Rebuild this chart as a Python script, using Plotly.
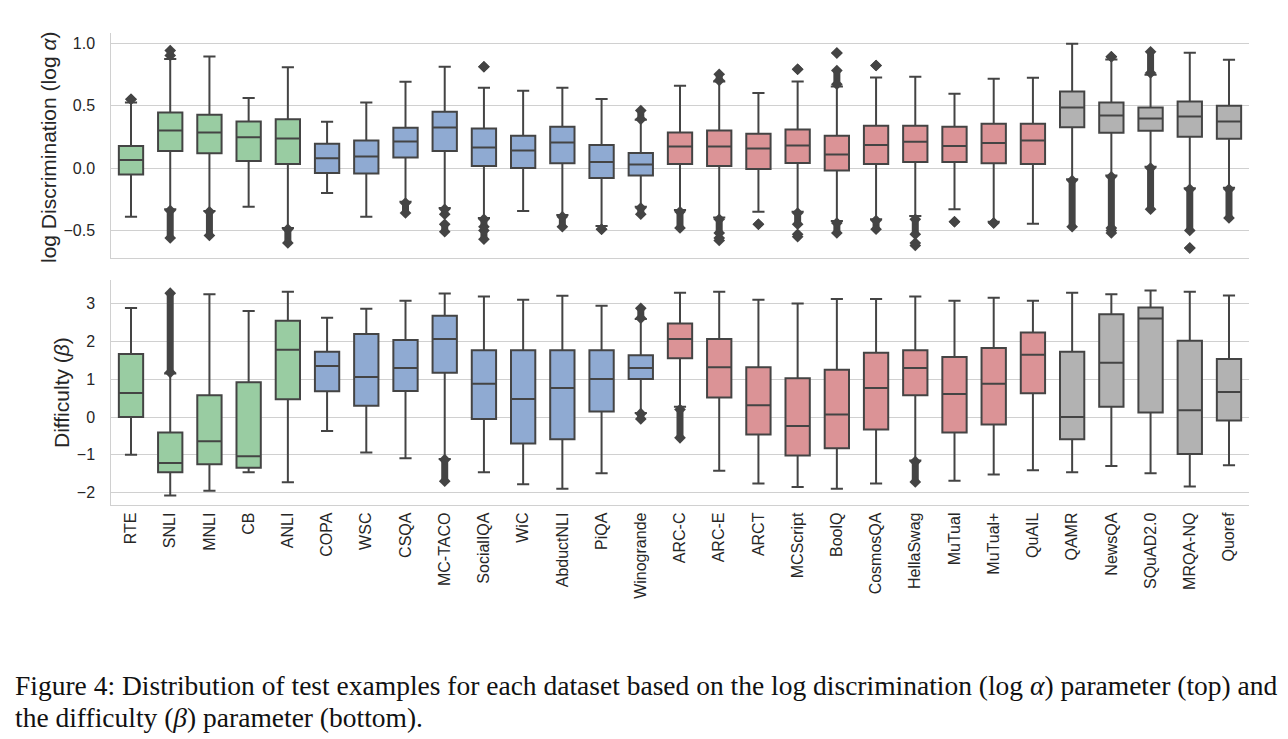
import plotly.graph_objects as go

# ---------------- data ----------------
datasets = ["RTE", "SNLI", "MNLI", "CB", "ANLI",
            "COPA", "WSC", "CSQA", "MC-TACO", "SocialIQA", "WiC", "AbductNLI", "PiQA", "Winogrande",
            "ARC-C", "ARC-E", "ARCT", "MCScript", "BoolQ", "CosmosQA", "HellaSwag", "MuTual", "MuTual+", "QuAIL",
            "QAMR", "NewsQA", "SQuAD2.0", "MRQA-NQ", "Quoref"]
groups = ["nli"] * 5 + ["mc1"] * 9 + ["mc2"] * 10 + ["qa"] * 5
group_colors = {"nli": "#99CCA2", "mc1": "#8FAAD2", "mc2": "#DB9396", "qa": "#B2B2B2"}

# log discrimination (top panel)
a_low = [-0.39, -0.33, -0.345, -0.31, -0.48, -0.20, -0.39, -0.27, -0.32, -0.40, -0.345, -0.377, -0.465, -0.31,
         -0.337, -0.396, -0.35, -0.35, -0.425, -0.41, -0.385, -0.33, -0.43, -0.447,
         -0.09, -0.06, 0.01, -0.163, -0.158]
a_q1 = [-0.053, 0.136, 0.118, 0.056, 0.032, -0.04, -0.045, 0.083, 0.136, 0.016, 0.0, 0.037, -0.08, -0.061,
        0.032, 0.016, -0.008, 0.04, -0.02, 0.032, 0.048, 0.048, 0.037, 0.032,
        0.326, 0.281, 0.297, 0.249, 0.233]
a_med = [0.064, 0.30, 0.283, 0.246, 0.235, 0.078, 0.091, 0.211, 0.324, 0.163, 0.139, 0.203, 0.048, 0.027,
         0.171, 0.171, 0.155, 0.179, 0.107, 0.184, 0.209, 0.176, 0.20, 0.219,
         0.484, 0.42, 0.396, 0.412, 0.372]
a_q3 = [0.176, 0.444, 0.425, 0.372, 0.39, 0.193, 0.219, 0.321, 0.449, 0.316, 0.257, 0.329, 0.184, 0.12,
        0.283, 0.299, 0.273, 0.307, 0.257, 0.337, 0.337, 0.329, 0.353, 0.353,
        0.612, 0.524, 0.484, 0.532, 0.497]
a_high = [0.524, 0.872, 0.893, 0.56, 0.805, 0.369, 0.524, 0.69, 0.81, 0.642, 0.618, 0.642, 0.551, 0.385,
          0.658, 0.692, 0.60, 0.692, 0.652, 0.725, 0.73, 0.594, 0.714, 0.722,
          0.995, 0.869, 0.746, 0.922, 0.866]
# outlier spans (low, high) per dataset; a span with low == high is a single outlier
a_outliers = [
    [(0.55, 0.55)],
    [(0.90, 0.94), (-0.56, -0.34)],
    [(-0.54, -0.35)],
    [],
    [(-0.60, -0.49)],
    [],
    [],
    [(-0.36, -0.28)],
    [(-0.37, -0.33), (-0.51, -0.45)],
    [(0.81, 0.81), (-0.47, -0.41), (-0.57, -0.50)],
    [],
    [(-0.47, -0.39)],
    [(-0.49, -0.49)],
    [(0.39, 0.46), (-0.37, -0.32)],
    [(-0.48, -0.35)],
    [(0.70, 0.75), (-0.52, -0.41), (-0.58, -0.56)],
    [(-0.45, -0.45)],
    [(0.79, 0.79), (-0.45, -0.36), (-0.55, -0.53)],
    [(0.67, 0.78), (0.92, 0.92), (-0.52, -0.44)],
    [(0.82, 0.82), (-0.49, -0.42)],
    [(-0.53, -0.41), (-0.62, -0.60)],
    [(-0.43, -0.43)],
    [(-0.44, -0.44)],
    [],
    [(-0.47, -0.10)],
    [(0.89, 0.89), (-0.48, -0.07), (-0.52, -0.50)],
    [(0.76, 0.93), (-0.33, 0.00)],
    [(-0.50, -0.17), (-0.64, -0.64)],
    [(-0.40, -0.17)],
]

# difficulty (bottom panel)
b_low = [-1.0, -2.08, -1.95, -1.46, -1.73, -0.37, -0.94, -1.09, -1.11, -1.46, -1.78, -1.90, -1.49, 0.11,
         0.27, -1.42, -1.76, -1.85, -1.90, -1.76, -1.15, -1.69, -1.52, -1.41,
         -1.46, -1.30, -1.49, -1.84, -1.28]
b_q1 = [0.0, -1.46, -1.25, -1.34, 0.47, 0.68, 0.30, 0.69, 1.17, -0.05, -0.70, -0.59, 0.15, 1.01,
        1.56, 0.52, -0.46, -1.02, -0.83, -0.33, 0.58, -0.41, -0.20, 0.63,
        -0.59, 0.27, 0.12, -0.98, -0.09]
b_med = [0.64, -1.22, -0.64, -1.04, 1.78, 1.35, 1.06, 1.30, 2.07, 0.88, 0.48, 0.77, 1.01, 1.30,
         2.07, 1.32, 0.31, -0.24, 0.07, 0.77, 1.30, 0.61, 0.88, 1.65,
         0.0, 1.44, 2.61, 0.18, 0.66]
b_q3 = [1.67, -0.41, 0.58, 0.92, 2.55, 1.73, 2.20, 2.04, 2.68, 1.77, 1.77, 1.77, 1.77, 1.64,
        2.48, 2.07, 1.32, 1.03, 1.25, 1.70, 1.77, 1.59, 1.83, 2.24,
        1.73, 2.72, 2.90, 2.02, 1.54]
b_high = [2.89, 1.15, 3.25, 2.81, 3.32, 2.63, 2.87, 3.08, 3.27, 3.19, 3.11, 3.21, 2.95, 2.60,
          3.29, 3.32, 3.11, 3.01, 3.13, 3.13, 3.19, 3.08, 3.16, 3.08,
          3.29, 3.25, 3.35, 3.32, 3.22]
b_outliers = [[] for _ in datasets]
b_outliers[1] = [(1.18, 3.28)]
b_outliers[8] = [(-1.70, -1.13)]
b_outliers[13] = [(2.62, 2.88), (-0.05, 0.09)]
b_outliers[14] = [(-0.55, 0.20)]
b_outliers[20] = [(-1.72, -1.18)]

y_titles = ["log Discrimination (log <i>α</i>)", "Difficulty (<i>β</i>)"]
caption_lines = [
    "Figure 4: Distribution of test examples for each dataset based on the log discrimination (log <i>α</i>) parameter (top) and",
    "the difficulty (<i>β</i>) parameter (bottom).",
]

# ---------------- figure ----------------
OFF = 8                 # page body margin in the browser
W, H = 1288 - OFF, 739 - OFF
EDGE = "#444444"
TEXT = "#262626"
GRID = "#D0D0D0"


def px(x):
    return (x - OFF) / W


def py(y):
    return 1 - (y - OFF) / H


fig = go.Figure()

panels = [
    ("x", "y", a_low, a_q1, a_med, a_q3, a_high, a_outliers),
    ("x2", "y2", b_low, b_q1, b_med, b_q3, b_high, b_outliers),
]

for xa, ya, lo, q1, med, q3, hi, outl in panels:
    for g, col in group_colors.items():
        idx = [i for i, gg in enumerate(groups) if gg == g]
        fig.add_trace(go.Box(
            x=[datasets[i] for i in idx],
            q1=[q1[i] for i in idx], median=[med[i] for i in idx], q3=[q3[i] for i in idx],
            lowerfence=[lo[i] for i in idx], upperfence=[hi[i] for i in idx],
            fillcolor=col, line=dict(color=EDGE, width=2), width=0.62, whiskerwidth=0.5,
            boxpoints=False, xaxis=xa, yaxis=ya, showlegend=False, hoverinfo="skip",
        ))
    ox, oy = [], []
    for i, spans in enumerate(outl):
        for (l, h) in spans:
            ox += [datasets[i], datasets[i], None]
            oy += [l, h, None]
    fig.add_trace(go.Scatter(
        x=ox, y=oy, mode="lines+markers", connectgaps=False,
        line=dict(color=EDGE, width=7),
        marker=dict(symbol="diamond", size=9, color=EDGE, line=dict(width=0)),
        xaxis=xa, yaxis=ya, showlegend=False, hoverinfo="skip",
    ))

xdom = [px(111.4), px(1248.6)]
top_dom = [py(258), py(33)]
bot_dom = [py(505), py(280)]

common_x = dict(type="category", categoryorder="array", categoryarray=datasets,
                range=[-0.5, len(datasets) - 0.5], domain=xdom, showgrid=False,
                showline=True, linecolor=GRID, linewidth=1.3, ticks="", zeroline=False)
common_y = dict(showgrid=True, gridcolor=GRID, gridwidth=1.2, showline=True, linecolor=GRID,
                linewidth=1.3, ticks="", zeroline=False, ticklabelstandoff=12,
                tickfont=dict(family="Liberation Sans, Arial", size=16, color=TEXT))

fig.update_layout(
    width=W, height=H, autosize=False,
    margin=dict(l=0, r=0, t=0, b=0),
    paper_bgcolor="white", plot_bgcolor="white",
    xaxis=dict(**common_x, anchor="y", showticklabels=False),
    yaxis=dict(**common_y, domain=top_dom, anchor="x", range=[-0.72, 1.08],
               tickvals=[-0.5, 0.0, 0.5, 1.0], ticktext=["−0.5", "0.0", "0.5", "1.0"]),
    xaxis2=dict(**common_x, anchor="y2", showticklabels=True, tickangle=-90,
                tickfont=dict(family="Liberation Sans, Arial", size=16, color=TEXT)),
    yaxis2=dict(**common_y, domain=bot_dom, anchor="x2", range=[-2.33, 3.63],
                tickvals=[-2, -1, 0, 1, 2, 3], ticktext=["−2", "−1", "0", "1", "2", "3"]),
)

# axis titles
fig.add_annotation(text=y_titles[0], xref="paper", yref="paper", x=px(48), y=py(148),
                   textangle=-90, showarrow=False, xanchor="center", yanchor="middle",
                   font=dict(family="Liberation Sans, Arial", size=21, color=TEXT))
fig.add_annotation(text=y_titles[1], xref="paper", yref="paper", x=px(61), y=py(393),
                   textangle=-90, showarrow=False, xanchor="center", yanchor="middle",
                   font=dict(family="Liberation Sans, Arial", size=21, color=TEXT))

# caption
for k, line in enumerate(caption_lines):
    fig.add_annotation(text=line, xref="paper", yref="paper", x=px(13), y=py(685 + 32 * k),
                       showarrow=False, xanchor="left", yanchor="middle", align="left",
                       font=dict(family="Liberation Serif, Times New Roman", size=27.5, color="#111111"))

fig.write_html("out.html")
